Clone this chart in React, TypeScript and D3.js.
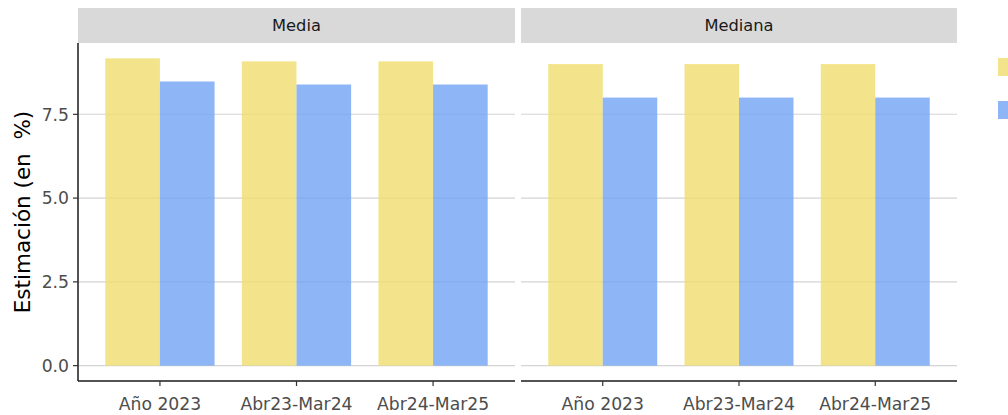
import React from "react";
import * as d3 from "d3";

const categories = ["Año 2023", "Abr23-Mar24", "Abr24-Mar25"];
const panels = ["Media", "Mediana"];
const series = ["s1", "s2"];
const mediaYellow = [9.17, 9.08, 9.08];
const mediaBlue = [8.48, 8.39, 8.39];
const medianaYellow = [9.0, 9.0, 9.0];
const medianaBlue = [8.0, 8.0, 8.0];
const yTicks = [0, 2.5, 5.0, 7.5];

const panelValues = [
  [mediaYellow, mediaBlue],
  [medianaYellow, medianaBlue],
];
const colors = ["rgb(240,221,110)", "rgb(114,162,243)"];

const W = 1008;
const H = 415;
const FONT = "DejaVu Sans, Verdana, sans-serif";

export default function App() {
  const panelX = [
    [78, 515],
    [521, 957],
  ];
  const top = 43;
  const bottom = 381;
  const stripTop = 8;
  const y = d3.scaleLinear().domain([-0.4585, 9.6285]).range([bottom, top]);

  return (
    <svg
      width={W}
      height={H}
      style={{ position: "absolute", left: 0, top: 0, background: "#fff" }}
      fontFamily={FONT}
    >
      {panels.map((p, pi) => {
        const [x0, x1] = panelX[pi];
        const unit = (x1 - x0) / 3.2;
        const xc = d3
          .scalePoint<string>()
          .domain(categories)
          .range([x0 + 0.6 * unit, x1 - 0.6 * unit]);
        const inner = d3
          .scaleBand<string>()
          .domain(series)
          .range([-0.4 * unit, 0.4 * unit])
          .padding(0);
        return (
          <g key={p}>
            <rect x={x0} y={stripTop} width={x1 - x0} height={top - stripTop} fill="#D9D9D9" />
            <text
              x={(x0 + x1) / 2}
              y={(stripTop + top) / 2}
              dy="0.35em"
              textAnchor="middle"
              fontSize={16.3}
              fill="#1A1A1A"
            >
              {p}
            </text>
            {yTicks.map((t) => (
              <line key={t} x1={x0} x2={x1} y1={y(t)} y2={y(t)} stroke="#D4D4D4" strokeWidth={1.1} />
            ))}
            {categories.map((c, ci) =>
              series.map((s, si) => {
                const v = panelValues[pi][si][ci];
                return (
                  <rect
                    key={c + s}
                    x={xc(c)! + inner(s)!}
                    width={inner.bandwidth()}
                    y={y(v)}
                    height={y(0) - y(v)}
                    fill={colors[si]}
                    fillOpacity={0.8}
                  />
                );
              })
            )}
            <line x1={x0} x2={x1} y1={bottom} y2={bottom} stroke="#1A1A1A" strokeWidth={1.5} />
            {categories.map((c) => (
              <g key={c}>
                <line x1={xc(c)} x2={xc(c)} y1={bottom} y2={bottom + 5} stroke="#333" strokeWidth={1.2} />
                <text x={xc(c)} y={410} textAnchor="middle" fontSize={17.2} fill="#4D4D4D">
                  {c}
                </text>
              </g>
            ))}
          </g>
        );
      })}
      <line x1={78} x2={78} y1={top} y2={bottom} stroke="#1A1A1A" strokeWidth={1.5} />
      {yTicks.map((t) => (
        <g key={t}>
          <line x1={73} x2={78} y1={y(t)} y2={y(t)} stroke="#333" strokeWidth={1.2} />
          <text x={69} y={y(t)} dy="0.36em" textAnchor="end" fontSize={17.2} fill="#4D4D4D">
            {t.toFixed(1)}
          </text>
        </g>
      ))}
      <text
        transform={`translate(22,${(top + bottom) / 2}) rotate(-90)`}
        dy="0.35em"
        textAnchor="middle"
        fontSize={21.5}
        fill="#000"
        style={{ whiteSpace: "pre" }}
      >
        {"Estimación (en  %)"}
      </text>
      {series.map((s, si) => (
        <rect key={s} x={998} y={58 + si * 43} width={20} height={18} fill={colors[si]} fillOpacity={0.8} />
      ))}
    </svg>
  );
}
